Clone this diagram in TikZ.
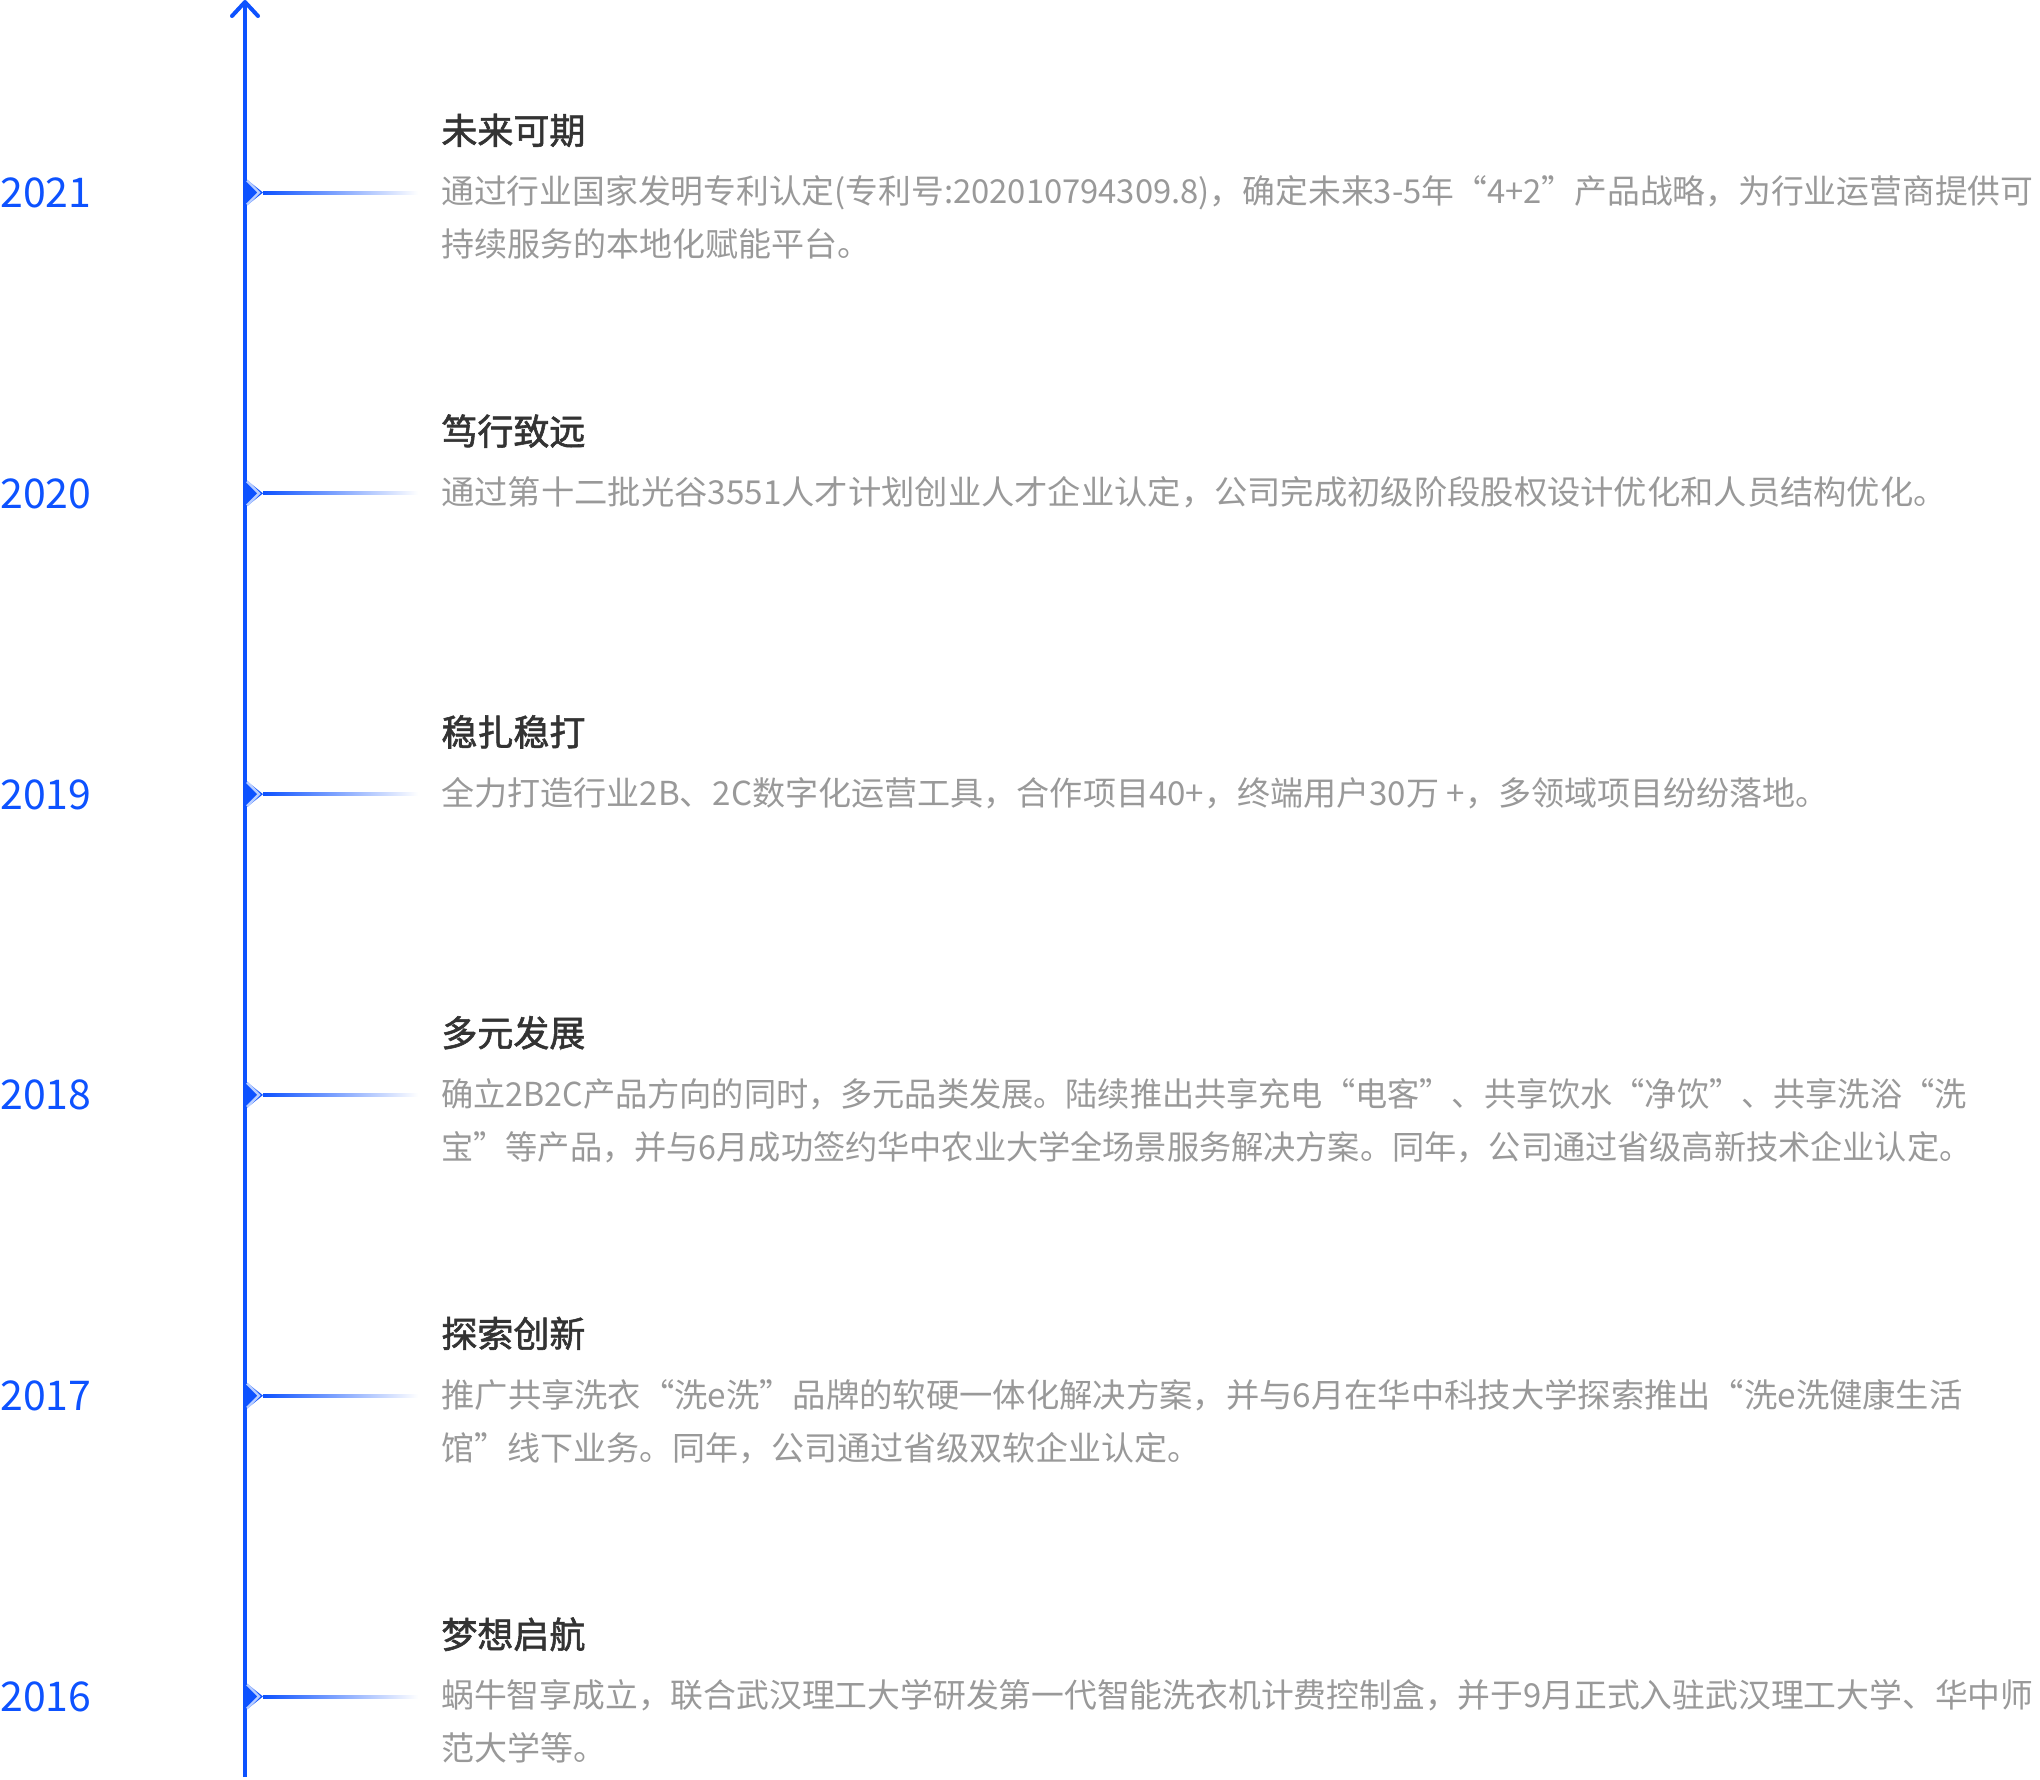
\documentclass[tikz,border=0pt]{standalone}
\usepackage{graphicx}
\usepackage{fontspec}
\setmainfont{Noto Sans CJK SC}
\newfontfamily\titlefont[FakeBold=1.6]{Noto Sans CJK SC}
\definecolor{axisblue}{HTML}{0D52FF}
\definecolor{chevlight}{HTML}{B9CEFF}
\definecolor{bodygray}{HTML}{999999}
\definecolor{titledark}{HTML}{333333}
\tikzset{
  yearlabel/.style={anchor=base west, inner sep=0pt, text=axisblue, font=\fontsize{20.5pt}{20.5pt}\selectfont},
  titlelabel/.style={anchor=base west, inner sep=0pt, text=titledark, font=\titlefont\fontsize{18pt}{18pt}\selectfont},
  bodylabel/.style={anchor=base west, inner sep=0pt, text=bodygray, font=\fontsize{16.5pt}{16.5pt}\selectfont},
}
\newcommand\fitline[2]{\sbox0{#2}\pgfmathsetmacro\fitratio{#1/\the\wd0}\scalebox{\fitratio}[1]{\usebox0}}
\newcommand\hsq[2]{\scalebox{#1}[1]{#2}}
\newcommand\tlentry[6]{%
  % #1 name, #2 Y, #3 year, #4 title, #5 line1, #6 line2
  \node[yearlabel] (yr#1) at (0,#2+15) {#3};
  \fill[axisblue] (243,#2-16) -- (263,#2) -- (243,#2+16) -- cycle;
  \draw[chevlight, line width=1.2pt] (247,#2-12) -- (259,#2) -- (247,#2+12);
  \coordinate (mk#1) at (263,#2);
  \coordinate (fe#1) at (418,#2);
  \shade[left color=axisblue, right color=white] (mk#1) ++(0,-1.5) rectangle ([yshift=-0.75pt]fe#1);
  \node[titlelabel] (tt#1) at (441,#2-62+13.5) {#4};
  \node[bodylabel] (ba#1) at (441,#2-1+12.4) {#5};
  \node[bodylabel] (bb#1) at (441,#2+52+12.4) {#6};
}
\begin{document}
\begin{tikzpicture}[x=0.5pt,y=-0.5pt]
\useasboundingbox (0,0) rectangle (2040,1779);
\coordinate (axtop) at (245,2);
\coordinate (axbot) at (245,1777);
\draw[axisblue, line width=2pt] (axbot) -- (axtop);
\draw[axisblue, line width=2pt, line cap=round, line join=round] (232,16) -- (axtop) -- (258,16);
\tlentry{a}{192.5}{2021}{未来可期}{\fitline{796pt}{通过行业国家发明专利认定(专利号:202010794309.8)，确定未来3-5年“4+2”产品战略，为行业运营商提供可}}{持续服务的本地化赋能平台。}
\tlentry{b}{493.3}{2020}{笃行致远}{\hsq{1.0088}{通过第十二批光谷3551人才计划创业人才企业认定，公司完成初级阶段股权设计优化和人员结构优化。}}{}
\tlentry{c}{794.1}{2019}{稳扎稳打}{\hsq{1.002}{全力打造行业2B、2C数字化运营工具，合作项目40+，终端用户30万 +，多领域项目纷纷落地。}}{}
\tlentry{d}{1094.9}{2018}{多元发展}{\hsq{0.975}{确立2B2C产品方向的同时，多元品类发展。陆续推出共享充电“电客”、共享饮水“净饮”、共享洗浴“洗}}{\hsq{0.975}{宝”等产品，并与6月成功签约华中农业大学全场景服务解决方案。同年，公司通过省级高新技术企业认定。}}
\tlentry{e}{1395.7}{2017}{探索创新}{\hsq{1.0095}{推广共享洗衣“洗e洗”品牌的软硬一体化解决方案，并与6月在华中科技大学探索推出“洗e洗健康生活}}{馆”线下业务。同年，公司通过省级双软企业认定。}
\tlentry{f}{1696.5}{2016}{梦想启航}{\fitline{796pt}{蜗牛智享成立，联合武汉理工大学研发第一代智能洗衣机计费控制盒，并于9月正式入驻武汉理工大学、华中师}}{范大学等。}
\end{tikzpicture}
\end{document}
